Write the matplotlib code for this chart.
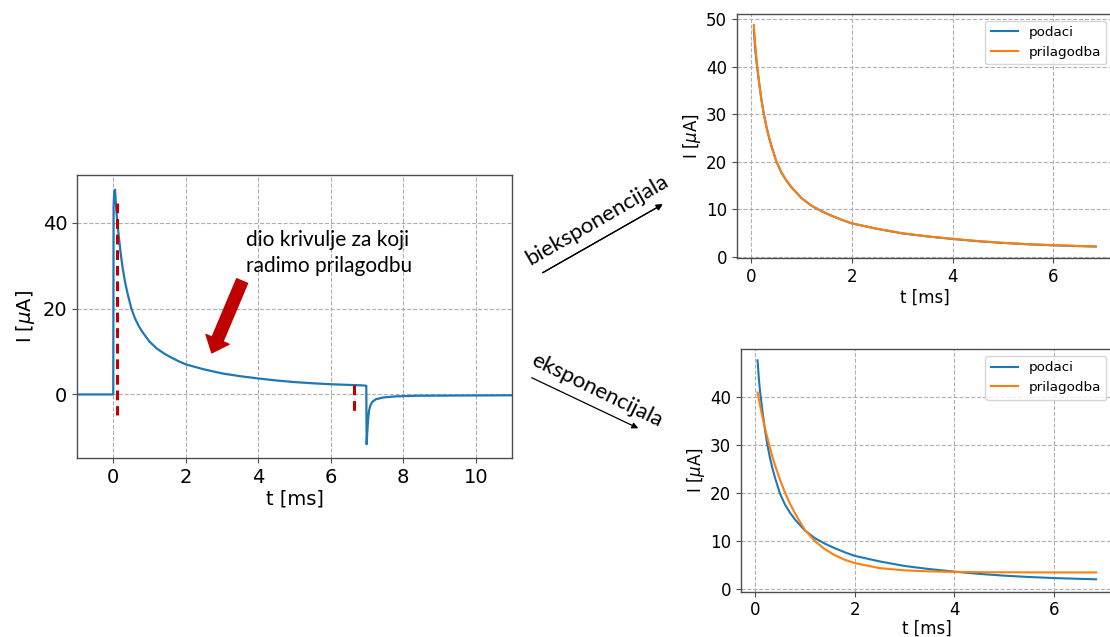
import matplotlib
matplotlib.use('Agg')
import matplotlib.pyplot as plt

# ---------------- data ----------------
t_fit = [0.05, 0.08, 0.10, 0.12, 0.15, 0.20, 0.25, 0.30, 0.35, 0.40, 0.50, 0.60,
         0.70, 0.80, 1.00, 1.20, 1.40, 1.60, 1.80, 2.00, 2.50, 3.00, 3.50, 4.00,
         4.50, 5.00, 5.50, 6.00, 6.50, 6.85]
I_data = [47.7, 43.5, 41.3, 39.6, 37.0, 33.2, 30.0, 27.4, 25.2, 23.3, 20.0, 17.7,
          16.0, 14.6, 12.3, 10.7, 9.55, 8.6, 7.75, 7.0, 5.85, 4.9, 4.25, 3.72,
          3.25, 2.88, 2.6, 2.38, 2.22, 2.12]
I_biexp = [48.8, 44.5, 42.0, 40.0, 37.2, 33.1, 29.9, 27.4, 25.2, 23.3, 20.0, 17.7,
           16.0, 14.6, 12.3, 10.7, 9.55, 8.6, 7.75, 7.02, 5.88, 4.93, 4.28, 3.75,
           3.29, 2.92, 2.63, 2.41, 2.25, 2.16]
I_exp = [41.0, 39.4, 38.35, 37.3, 35.9, 33.6, 31.5, 29.5, 27.6, 25.9, 22.9, 20.2,
         17.9, 15.9, 12.4, 10.1, 8.4, 7.15, 6.2, 5.5, 4.45, 3.98, 3.77, 3.66,
         3.6, 3.58, 3.56, 3.55, 3.55, 3.55]

# full trace: baseline before the pulse and the tail after switching off
t_pre = [-1.0, 0.0, 0.01, 0.03]
I_pre = [0.0, 0.0, 44.0, 47.3]
t_post = [6.95, 6.98, 6.99, 7.01, 7.03, 7.06, 7.10, 7.15, 7.25, 7.45, 7.8, 8.4, 9.5, 11.0]
I_post = [2.05, 2.0, -11.6, -8.5, -5.8, -3.6, -2.4, -1.7, -1.1, -0.7, -0.45, -0.3, -0.25, -0.2]

# fit window markers
t_marks = [0.09, 6.64]
I_mark_top = [44.5, 2.2]
I_mark_bottom = [-4.7, -4.7]

x_ticks_main = [0, 2, 4, 6, 8, 10]
y_ticks_main = [0, 20, 40]
x_ticks_fit = [0, 2, 4, 6]
y_ticks_top = [0, 10, 20, 30, 40, 50]
y_ticks_bot = [0, 10, 20, 30, 40]

labels = ['podaci', 'prilagodba']
ylab = r'I [$\mu$A]'
xlab = 't [ms]'

# ---------------- figure ----------------
W, H = 1110, 637
fig = plt.figure(figsize=(W / 100, H / 100), dpi=100)

def px_axes(x0, y0, x1, y1):
    return fig.add_axes([x0 / W, 1 - y1 / H, (x1 - x0) / W, (y1 - y0) / H])

BLUE = '#1f77b4'
ORANGE = '#ff7f0e'
DRED = '#c00000'

def style(ax, fs):
    ax.grid(True, linestyle='--', color='#b0b0b0', linewidth=0.8)
    ax.set_axisbelow(True)
    for s in ax.spines.values():
        s.set_color('0.3')
        s.set_linewidth(1.0)
    ax.tick_params(labelsize=fs, color='0.3')

# main axes
ax = px_axes(77, 175, 512, 458)
t_full = t_pre + t_fit + t_post
I_full = I_pre + I_data + I_post
ax.plot(t_full, I_full, color=BLUE, lw=1.6)
for tm, a, b in zip(t_marks, I_mark_top, I_mark_bottom):
    ax.plot([tm, tm], [a, b], color=DRED, lw=2.2, dashes=(3.2, 1.9))
ax.set_xlim(-1, 11)
ax.set_ylim(-14.8, 51.1)
ax.set_xticks(x_ticks_main)
ax.set_yticks(y_ticks_main)
ax.set_xlabel(xlab, fontsize=14, labelpad=2)
ax.set_ylabel(ylab, fontsize=14, labelpad=4)
style(ax, 14)
ax.annotate('', xy=(2.72, 9.7), xytext=(3.555, 26.4),
            arrowprops=dict(arrowstyle='simple,head_width=1.8,head_length=1.05,tail_width=0.85',
                            color=DRED, mutation_scale=10, shrinkA=0, shrinkB=0))

fig.text(245.7 / W, 1 - 246 / H, 'dio krivulje za koji', fontsize=15,
         family=['Lato', 'DejaVu Sans'], ha='left', va='baseline')
fig.text(245.7 / W, 1 - 271.7 / H, 'radimo prilagodbu', fontsize=15,
         family=['Lato', 'DejaVu Sans'], ha='left', va='baseline')

# top right: bi-exponential fit
ax1 = px_axes(736.7, 14, 1113, 258.3)
ax1.plot(t_fit, I_data, color=BLUE, lw=1.5, label=labels[0])
ax1.plot(t_fit, I_biexp, color=ORANGE, lw=1.5, label=labels[1])
ax1.set_xlim(-0.29, 7.19)
ax1.set_ylim(-0.35, 51.1)
ax1.set_xticks(x_ticks_fit)
ax1.set_yticks(y_ticks_top)
ax1.set_xlabel(xlab, fontsize=12, labelpad=2)
ax1.set_ylabel(ylab, fontsize=12, labelpad=2)
style(ax1, 12)
ax1.legend(loc='upper right', fontsize=9.7)

# bottom right: single exponential fit
ax2 = px_axes(740.6, 349.3, 1113, 591.5)
ax2.plot(t_fit, I_data, color=BLUE, lw=1.5, label=labels[0])
ax2.plot(t_fit, I_exp, color=ORANGE, lw=1.5, label=labels[1])
ax2.set_xlim(-0.29, 7.19)
ax2.set_ylim(-0.42, 50.0)
ax2.set_xticks(x_ticks_fit)
ax2.set_yticks(y_ticks_bot)
ax2.set_xlabel(xlab, fontsize=12, labelpad=0.5)
ax2.set_ylabel(ylab, fontsize=12, labelpad=2)
style(ax2, 12)
ax2.legend(loc='upper right', fontsize=9.7)

# connector arrows and labels
fig.add_artist(plt.annotate('', xy=(662.7 / W, 1 - 204.3 / H), xytext=(542.7 / W, 1 - 272.7 / H),
                            xycoords='figure fraction', textcoords='figure fraction',
                            arrowprops=dict(arrowstyle='-|>', color='black', lw=0.9,
                                            mutation_scale=9, shrinkA=0, shrinkB=0)))
fig.text(596.7 / W, 1 - 220 / H, 'bieksponencijala', fontsize=16, rotation=30,
         family=['Lato', 'DejaVu Sans'], ha='center', va='center', rotation_mode='anchor')

ax2.annotate('', xy=(638.3 / W, 1 - 428.3 / H), xytext=(531.7 / W, 1 - 377.7 / H),
             xycoords='figure fraction', textcoords='figure fraction',
             arrowprops=dict(arrowstyle='-|>', color='black', lw=0.9,
                             mutation_scale=9, shrinkA=0, shrinkB=0),
             annotation_clip=False)
fig.text(597.3 / W, 1 - 390.7 / H, 'eksponencijala', fontsize=16, rotation=-26,
         family=['Lato', 'DejaVu Sans'], ha='center', va='center', rotation_mode='anchor')

fig.savefig('out.png', dpi=100)
